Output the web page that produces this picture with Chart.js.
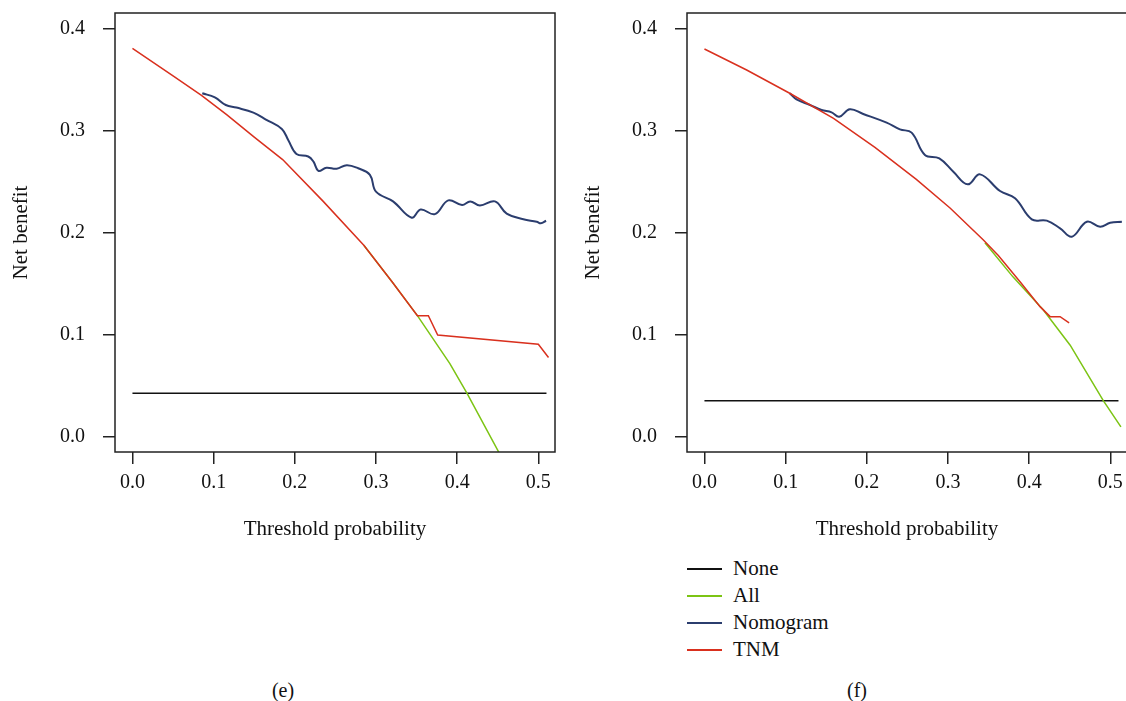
<!DOCTYPE html>
<html>
<head>
<meta charset="utf-8">
<script src="https://cdn.jsdelivr.net/npm/chart.js@4/dist/chart.umd.min.js"></script>
<style>
body { margin:0; width:1126px; height:701px; overflow:hidden; background:#fff; position:relative; font-family:'Liberation Serif', 'DejaVu Serif', serif; color:#111; }
canvas { position:absolute; top:0; }
#boxE { left:0; }
#boxF { left:572px; }
.lab { position:absolute; top:678px; width:60px; line-height:24px; text-align:center; font-size:20px; }
#legend { position:absolute; left:687px; top:555px; font-size:21px; }
.row { height:27px; display:flex; align-items:center; }
.sw { display:inline-block; width:35px; height:2px; margin-right:11px; }
</style>
</head>
<body>
<canvas id="boxE" width="560" height="545"></canvas>
<canvas id="boxF" width="560" height="545"></canvas>
<div class="lab" style="left:253px">(e)</div>
<div class="lab" style="left:827px">(f)</div>
<div id="legend"></div>
<script>
var xTicks = [0, 0.1, 0.2, 0.3, 0.4, 0.5];
var yTicks = [0, 0.1, 0.2, 0.3, 0.4];
var names = ['None', 'All', 'Nomogram', 'TNM'];

// panel (e)
var noneE_x = [0, 0.51];
var noneE_y = [0.043, 0.043];
var allE_x = [0.285, 0.32, 0.351, 0.391, 0.412, 0.452];
var allE_y = [0.188, 0.152, 0.119, 0.072, 0.043, -0.016];
var nomoE_x = [0.086, 0.1015, 0.115, 0.128, 0.149, 0.165, 0.184, 0.192, 0.202, 0.2165, 0.223, 0.229, 0.239, 0.2515, 0.264, 0.278, 0.2925, 0.300, 0.321, 0.344, 0.355, 0.3725, 0.389, 0.406, 0.416, 0.428, 0.4465, 0.461, 0.4815, 0.498, 0.503, 0.5095];
var nomoE_y = [0.337, 0.333, 0.3255, 0.323, 0.318, 0.311, 0.302, 0.291, 0.2775, 0.275, 0.270, 0.261, 0.264, 0.263, 0.2665, 0.2635, 0.257, 0.2405, 0.231, 0.215, 0.223, 0.2185, 0.232, 0.2275, 0.231, 0.227, 0.231, 0.219, 0.2135, 0.211, 0.2095, 0.212];
var tnmE_x = [0, 0.05, 0.085, 0.116, 0.15, 0.185, 0.235, 0.285, 0.32, 0.351, 0.3645, 0.376, 0.5, 0.5125];
var tnmE_y = [0.381, 0.354, 0.335, 0.316, 0.294, 0.272, 0.231, 0.188, 0.152, 0.119, 0.119, 0.100, 0.091, 0.078];

// panel (f)
var noneF_x = [0, 0.51];
var noneF_y = [0.0355, 0.0355];
var allF_x = [0.3455, 0.38, 0.4175, 0.4505, 0.4915, 0.513];
var allF_y = [0.1905, 0.157, 0.1245, 0.090, 0.0355, 0.010];
var nomoF_x = [0.105, 0.1134, 0.130, 0.1443, 0.1566, 0.166, 0.179, 0.1956, 0.2244, 0.2408, 0.2552, 0.2716, 0.2893, 0.3066, 0.3243, 0.3395, 0.3641, 0.3826, 0.4032, 0.4217, 0.4381, 0.4525, 0.471, 0.4874, 0.4998, 0.5142];
var nomoF_y = [0.337, 0.331, 0.3255, 0.3206, 0.3183, 0.314, 0.3213, 0.3167, 0.3082, 0.3016, 0.2984, 0.2765, 0.2732, 0.2601, 0.2477, 0.2575, 0.2412, 0.234, 0.2134, 0.2121, 0.2046, 0.1964, 0.2111, 0.2062, 0.2101, 0.2111];
var tnmF_x = [0, 0.052, 0.105, 0.159, 0.21, 0.261, 0.3025, 0.3436, 0.362, 0.39, 0.4134, 0.4258, 0.4381, 0.4492];
var tnmF_y = [0.3804, 0.3598, 0.337, 0.3124, 0.284, 0.2526, 0.2245, 0.1931, 0.178, 0.151, 0.1278, 0.118, 0.118, 0.112];

var colors = ['#111111', '#7cc414', '#2b3d6e', '#d9301e'];
var widths = [1.5, 1.5, 2, 1.5];
var tensions = [0, 0, 0.4, 0];

Chart.defaults.font.family = "'Liberation Serif', 'DejaVu Serif', serif";
Chart.defaults.color = '#111';

function pts(xs, ys) {
    return xs.map(function (x, i) { return { x: x, y: ys[i] }; });
}

var boxPlugin = {
    id: 'box',
    afterDraw: function (chart) {
        var a = chart.chartArea, ctx = chart.ctx;
        ctx.save();
        ctx.strokeStyle = '#222';
        ctx.lineWidth = 1.5;
        ctx.strokeRect(a.left, a.top, a.right - a.left, a.bottom - a.top);
        ctx.restore();
    }
};

function makePanel(id, series) {
    var datasets = series.map(function (s, i) {
        return {
            label: names[i],
            data: pts(s[0], s[1]),
            borderColor: colors[i],
            borderWidth: widths[i],
            tension: tensions[i],
            pointRadius: 0,
            fill: false,
            order: 3 - i
        };
    });
    return new Chart(id, {
        type: 'line',
        data: { datasets: datasets },
        options: {
            responsive: false,
            animation: false,
            layout: { padding: { top: 13, right: 5, left: 0, bottom: 0 } },
            plugins: { legend: { display: false }, tooltip: { enabled: false } },
            scales: {
                x: {
                    type: 'linear',
                    min: -0.0215,
                    max: 0.5205,
                    afterBuildTicks: function (s) { s.ticks = xTicks.map(function (v) { return { value: v }; }); },
                    afterFit: function (s) { s.height = 93; s.paddingLeft = 0; s.paddingRight = 0; },
                    border: { display: false },
                    grid: { drawOnChartArea: false, tickLength: 12, color: '#222', lineWidth: 1.5 },
                    ticks: { padding: 7, maxRotation: 0, font: { size: 20 }, callback: function (v) { return v.toFixed(1); } },
                    title: { display: true, text: 'Threshold probability', font: { size: 21 }, padding: { top: 0, bottom: 3 } }
                },
                y: {
                    min: -0.0147,
                    max: 0.4157,
                    afterBuildTicks: function (s) { s.ticks = yTicks.map(function (v) { return { value: v }; }); },
                    afterFit: function (s) { s.width = 115; s.paddingTop = 0; s.paddingBottom = 0; },
                    border: { display: false },
                    grid: { drawOnChartArea: false, tickLength: 12, color: '#222', lineWidth: 1.5 },
                    ticks: { padding: 18, font: { size: 20 }, callback: function (v) { return v.toFixed(1); } },
                    title: { display: true, text: 'Net benefit', font: { size: 21 }, padding: { top: 9, bottom: 0 } }
                }
            }
        },
        plugins: [boxPlugin]
    });
}

var chartE = makePanel('boxE', [[noneE_x, noneE_y], [allE_x, allE_y], [nomoE_x, nomoE_y], [tnmE_x, tnmE_y]]);
var chartF = makePanel('boxF', [[noneF_x, noneF_y], [allF_x, allF_y], [nomoF_x, nomoF_y], [tnmF_x, tnmF_y]]);

// legend under panel (f), built from the chart's datasets
var legend = document.getElementById('legend');
chartF.data.datasets.forEach(function (ds) {
    var row = document.createElement('div');
    row.className = 'row';
    var sw = document.createElement('span');
    sw.className = 'sw';
    sw.style.backgroundColor = ds.borderColor;
    var txt = document.createElement('span');
    txt.textContent = ds.label;
    row.appendChild(sw);
    row.appendChild(txt);
    legend.appendChild(row);
});
</script>
</body>
</html>
